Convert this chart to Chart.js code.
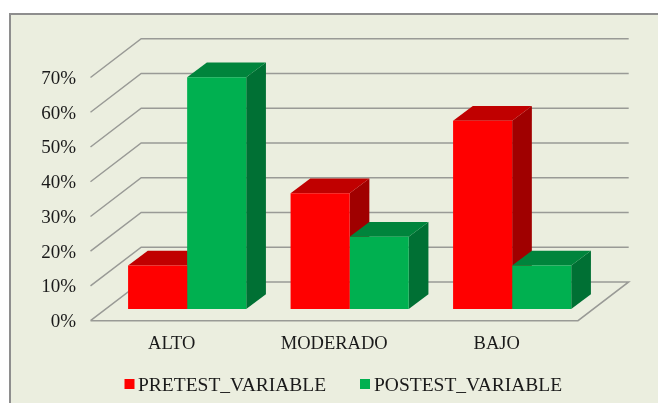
<!DOCTYPE html>
<html>
<head>
<meta charset="utf-8">
<style>
  html, body { margin: 0; padding: 0; background: #fff; overflow: hidden; }
  #wrap { position: relative; width: 658px; height: 403px; }
</style>
</head>
<body>
<div id="wrap"><canvas id="chart" width="658" height="403"></canvas></div>
<script src="https://cdn.jsdelivr.net/npm/chart.js@4/dist/chart.umd.min.js"></script>
<script>
// Data
const categories = ['ALTO', 'MODERADO', 'BAJO'];
const pretest = [12.5, 33.3, 54.2];
const posttest = [66.7, 20.8, 12.5];

// Fake 3D look
const font = '"Liberation Serif", "Times New Roman", serif';
const wallDx = 50.7, wallDy = -38.8;   // floor front edge -> back wall
const barDx = 15.4, barDy = -11.7;     // floor front edge -> front face of the bars
const depthDx = 19.7, depthDy = -14.7; // thickness of a bar

const faces = [
  { front: '#ff0000', top: '#c00000', side: '#a00000' },
  { front: '#00b050', top: '#00843c', side: '#007034' }
];

function poly(ctx, color, pts){
  ctx.fillStyle = color;
  ctx.beginPath();
  pts.forEach((p, i) => i ? ctx.lineTo(p[0], p[1]) : ctx.moveTo(p[0], p[1]));
  ctx.closePath();
  ctx.fill();
}

const panel = {
  id: 'panel',
  beforeDraw(chart){
    const ctx = chart.ctx;
    ctx.save();
    ctx.fillStyle = '#ebeedf';
    ctx.fillRect(9, 13, 649, 390);
    ctx.strokeStyle = '#8e8e8e';
    ctx.lineWidth = 2;
    ctx.beginPath();
    ctx.moveTo(10, 403);
    ctx.lineTo(10, 14);
    ctx.lineTo(658, 14);
    ctx.stroke();
    ctx.restore();
  }
};

const walls = {
  id: 'walls',
  beforeDatasetsDraw(chart){
    const ctx = chart.ctx, y = chart.scales.y, a = chart.chartArea;
    ctx.save();
    ctx.strokeStyle = '#999a96';
    ctx.lineWidth = 1.5;
    y.ticks.forEach(t => {
      const py = y.getPixelForValue(t.value);
      ctx.beginPath();
      ctx.moveTo(a.left, py);
      ctx.lineTo(a.left + wallDx, py + wallDy);
      ctx.lineTo(a.right + wallDx, py + wallDy);
      if(t.value === 0){
        ctx.lineTo(a.right, py);
        ctx.lineTo(a.left, py);
      }
      ctx.stroke();
    });
    ctx.restore();
  }
};

// top and side faces go under the library's bars, left to right
const bars3d = {
  id: 'bars3d',
  beforeDatasetsDraw(chart){
    const ctx = chart.ctx;
    ctx.save();
    ctx.translate(barDx, barDy);
    categories.forEach((c, j) => {
      chart.data.datasets.forEach((ds, i) => {
        const b = chart.getDatasetMeta(i).data[j];
        const l = b.x - b.width / 2, r = b.x + b.width / 2;
        poly(ctx, faces[i].side, [[r, b.y], [r + depthDx, b.y + depthDy], [r + depthDx, b.base + depthDy], [r, b.base]]);
        poly(ctx, faces[i].top, [[l, b.y], [l + depthDx, b.y + depthDy], [r + depthDx, b.y + depthDy], [r, b.y]]);
      });
    });
    // left on the stack for the front faces, undone in afterDatasetsDraw
  },
  afterDatasetsDraw(chart){
    chart.ctx.restore();
  }
};

// swatch sits closer to the text than the built in legend allows
const legendRow = {
  id: 'legendRow',
  afterDraw(chart){
    const ctx = chart.ctx;
    const boxX = [124.5, 360], textX = [138, 374];
    ctx.save();
    ctx.font = '19.5px ' + font;
    ctx.textBaseline = 'middle';
    chart.data.datasets.forEach((ds, i) => {
      ctx.fillStyle = ds.backgroundColor;
      ctx.fillRect(boxX[i], 379, 10, 10);
      ctx.fillStyle = '#1a1a1a';
      ctx.fillText(ds.label, textX[i], 385.5);
    });
    ctx.restore();
  }
};

new Chart(document.getElementById('chart'), {
  type: 'bar',
  data: {
    labels: categories,
    datasets: [
      { label: 'PRETEST_VARIABLE', data: pretest, backgroundColor: faces[0].front },
      { label: 'POSTEST_VARIABLE', data: posttest, backgroundColor: faces[1].front }
    ]
  },
  options: {
    responsive: false,
    animation: false,
    layout: { padding: { top: 77.5, right: 80 } },
    categoryPercentage: 0.727,
    barPercentage: 1,
    plugins: { legend: { display: false }, tooltip: { enabled: false } },
    scales: {
      x: {
        grid: { display: false, drawTicks: false },
        border: { display: false },
        ticks: { color: '#1a1a1a', font: { family: font, size: 18.5 }, padding: 12, maxRotation: 0 },
        afterFit(s){ s.height = 82.3; }
      },
      y: {
        min: 0,
        max: 70,
        grid: { display: false, drawTicks: false },
        border: { display: false },
        ticks: {
          stepSize: 10,
          color: '#1a1a1a',
          font: { family: font, size: 19 },
          padding: 14.5,
          labelOffset: 1.5,
          callback: v => v + '%'
        },
        afterFit(s){ s.width = 90.5; }
      }
    }
  },
  plugins: [panel, walls, bars3d, legendRow]
});
</script>
</body>
</html>
